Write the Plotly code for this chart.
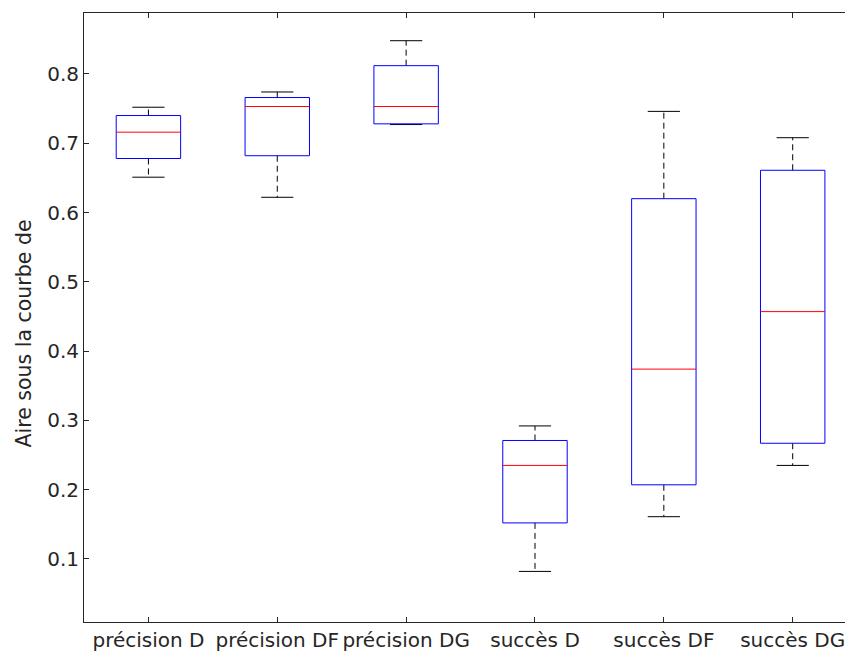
import plotly.graph_objects as go

categories = ["précision D", "précision DF", "précision DG", "succès D", "succès DF", "succès DG"]
lower_whisker = [0.651, 0.622, 0.727, 0.082, 0.161, 0.235]
q1 = [0.678, 0.682, 0.728, 0.152, 0.207, 0.267]
median = [0.716, 0.753, 0.753, 0.235, 0.374, 0.457]
q3 = [0.740, 0.766, 0.812, 0.271, 0.620, 0.661]
upper_whisker = [0.752, 0.774, 0.848, 0.292, 0.746, 0.708]
y_ticks = [0.1, 0.2, 0.3, 0.4, 0.5, 0.6, 0.7, 0.8]

BOX_HALF = 0.25
CAP_HALF = 0.125
BLUE = "rgb(0,0,255)"
RED = "rgb(255,0,0)"
BLACK = "rgb(0,0,0)"

fig = go.Figure()

for i, cat in enumerate(categories):
    x = i + 1
    # whiskers (dashed)
    fig.add_trace(go.Scatter(x=[x, x, None, x, x], y=[q3[i], upper_whisker[i], None, q1[i], lower_whisker[i]],
                             mode="lines", line=dict(color=BLACK, width=1, dash="6px,4px"),
                             hoverinfo="skip", showlegend=False))
    # caps
    fig.add_trace(go.Scatter(x=[x - CAP_HALF, x + CAP_HALF, None, x - CAP_HALF, x + CAP_HALF],
                             y=[upper_whisker[i], upper_whisker[i], None, lower_whisker[i], lower_whisker[i]],
                             mode="lines", line=dict(color=BLACK, width=1),
                             hoverinfo="skip", showlegend=False))
    # box
    fig.add_trace(go.Scatter(x=[x - BOX_HALF, x + BOX_HALF, x + BOX_HALF, x - BOX_HALF, x - BOX_HALF],
                             y=[q1[i], q1[i], q3[i], q3[i], q1[i]],
                             mode="lines", line=dict(color=BLUE, width=1),
                             hoverinfo="skip", showlegend=False))
    # median
    fig.add_trace(go.Scatter(x=[x - BOX_HALF, x + BOX_HALF], y=[median[i], median[i]],
                             mode="lines", line=dict(color=RED, width=1),
                             hoverinfo="skip", showlegend=False))

axis_color = "rgb(38,38,38)"
fig.update_layout(
    width=845, height=649,
    margin=dict(l=76, r=0, t=5, b=35),
    paper_bgcolor="white", plot_bgcolor="white",
    font=dict(family="DejaVu Sans", size=20, color=axis_color),
    xaxis=dict(range=[0.5, 6.468], tickmode="array", tickvals=list(range(1, len(categories) + 1)),
               ticktext=categories, ticks="inside", ticklen=5, tickcolor=axis_color,
               showline=True, linecolor=axis_color, linewidth=1, mirror="ticks",
               showgrid=False, zeroline=False, tickfont=dict(size=20)),
    yaxis=dict(range=[0.009, 0.888], tickmode="array", tickvals=y_ticks,
               ticktext=[f"{v:.1f}" for v in y_ticks], ticks="inside", ticklen=5, tickcolor=axis_color,
               showline=True, linecolor=axis_color, linewidth=1, mirror="ticks",
               showgrid=False, zeroline=False, tickfont=dict(size=20)),
    annotations=[dict(text="Aire sous la courbe de", textangle=-90, xref="paper", yref="paper",
                      x=0, y=0.5, xanchor="center", yanchor="middle", xshift=-61, yshift=-16,
                      showarrow=False, font=dict(size=20.5, color=axis_color))],
)

fig.write_html("out.html")
